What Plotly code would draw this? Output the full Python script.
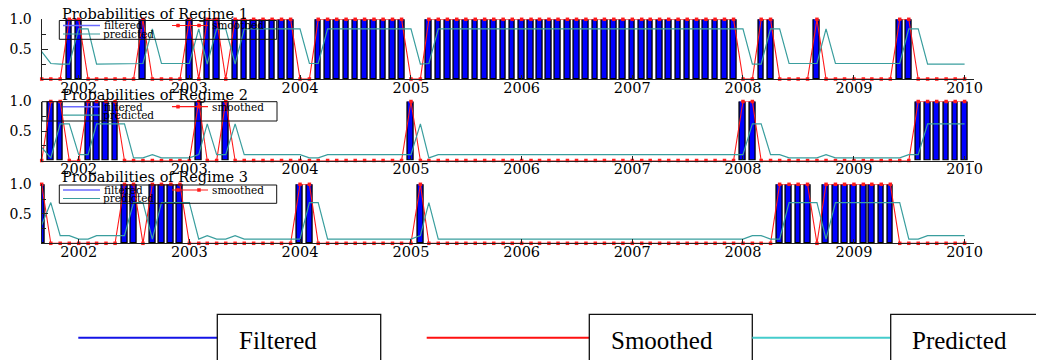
import plotly.graph_objects as go
import pandas as pd

# ---------------- data (monthly, Sep 2001 - Jan 2010) ----------------
start_month = "2001-09-01"
n_obs = 101
dates = pd.date_range(start_month, periods=n_obs, freq="MS")

filtered_1 = [0,0,0,1,1,0,0,0,0,0,
              0,1,0,0,0,0,1,0,1,1,
              0,1,1,1,1,1,1,1,0,0,
              1,1,1,1,1,1,1,1,1,1,
              0,0,1,1,1,1,1,1,1,1,
              1,1,1,1,1,1,1,1,1,1,
              1,1,1,1,1,1,1,1,1,1,
              1,1,1,1,1,1,0,0,1,1,
              0,0,0,0,1,0,0,0,0,0,
              0,0,0,1,1,0,0,0,0,0,
              0]
smoothed_1 = [0,0,0,1,1,0,0,0,0,0,
              0,1,0,0,0,0,1,0,1,1,
              0,1,1,1,1,1,1,1,0,0,
              1,1,1,1,1,1,1,1,1,1,
              0,0,1,1,1,1,1,1,1,1,
              1,1,1,1,1,1,1,1,1,1,
              1,1,1,1,1,1,1,1,1,1,
              1,1,1,1,1,1,0,0,1,1,
              0,0,0,0,1,0,0,0,0,0,
              0,0,0,1,1,0,0,0,0,0,
              0]
predicted_1 = [0.46,0.26,0.25,0.25,0.84,0.84,0.25,0.25,0.25,0.25,
               0.26,0.26,0.84,0.26,0.26,0.26,0.26,0.84,0.25,0.84,
               0.84,0.25,0.84,0.84,0.84,0.84,0.84,0.84,0.84,0.26,
               0.26,0.84,0.84,0.84,0.84,0.84,0.84,0.84,0.84,0.84,
               0.84,0.25,0.26,0.84,0.84,0.84,0.84,0.84,0.84,0.84,
               0.84,0.84,0.84,0.84,0.84,0.84,0.84,0.84,0.84,0.84,
               0.84,0.84,0.84,0.84,0.84,0.84,0.84,0.84,0.84,0.84,
               0.84,0.84,0.84,0.84,0.84,0.84,0.84,0.25,0.25,0.84,
               0.84,0.26,0.26,0.26,0.26,0.84,0.26,0.26,0.26,0.26,
               0.26,0.26,0.26,0.26,0.84,0.84,0.25,0.25,0.25,0.25,
               0.25]

filtered_2 = [0,1,1,0,0,1,1,1,1,0,
              0,0,0,0,0,0,0,1,0,0,
              1,0,0,0,0,0,0,0,0,0,
              0,0,0,0,0,0,0,0,0,0,
              1,0,0,0,0,0,0,0,0,0,
              0,0,0,0,0,0,0,0,0,0,
              0,0,0,0,0,0,0,0,0,0,
              0,0,0,0,0,0,1,1,0,0,
              0,0,0,0,0,0,0,0,0,0,
              0,0,0,0,0,1,1,1,1,1,
              1]
smoothed_2 = [0,1,1,0,0,1,1,1,1,0,
              0,0,0,0,0,0,0,1,0,0,
              1,0,0,0,0,0,0,0,0,0,
              0,0,0,0,0,0,0,0,0,0,
              1,0,0,0,0,0,0,0,0,0,
              0,0,0,0,0,0,0,0,0,0,
              0,0,0,0,0,0,0,0,0,0,
              0,0,0,0,0,0,1,1,0,0,
              0,0,0,0,0,0,0,0,0,0,
              0,0,0,0,0,1,1,1,1,1,
              1]
predicted_2 = [0.22,0.045,0.62,0.62,0.10,0.10,0.62,0.62,0.62,0.62,
               0.045,0.045,0.10,0.045,0.045,0.045,0.045,0.10,0.62,0.10,
               0.10,0.62,0.10,0.10,0.10,0.10,0.10,0.10,0.10,0.045,
               0.045,0.10,0.10,0.10,0.10,0.10,0.10,0.10,0.10,0.10,
               0.10,0.62,0.045,0.10,0.10,0.10,0.10,0.10,0.10,0.10,
               0.10,0.10,0.10,0.10,0.10,0.10,0.10,0.10,0.10,0.10,
               0.10,0.10,0.10,0.10,0.10,0.10,0.10,0.10,0.10,0.10,
               0.10,0.10,0.10,0.10,0.10,0.10,0.10,0.62,0.62,0.10,
               0.10,0.045,0.045,0.045,0.045,0.10,0.045,0.045,0.045,0.045,
               0.045,0.045,0.045,0.045,0.10,0.10,0.62,0.62,0.62,0.62,
               0.62]

filtered_3 = [1,0,0,0,0,0,0,0,0,1,
              1,0,1,1,1,1,0,0,0,0,
              0,0,0,0,0,0,0,0,1,1,
              0,0,0,0,0,0,0,0,0,0,
              0,1,0,0,0,0,0,0,0,0,
              0,0,0,0,0,0,0,0,0,0,
              0,0,0,0,0,0,0,0,0,0,
              0,0,0,0,0,0,0,0,0,0,
              1,1,1,1,0,1,1,1,1,1,
              1,1,1,0,0,0,0,0,0,0,
              0]
smoothed_3 = [1,0,0,0,0,0,0,0,0,1,
              1,0,1,1,1,1,0,0,0,0,
              0,0,0,0,0,0,0,0,1,1,
              0,0,0,0,0,0,0,0,0,0,
              0,1,0,0,0,0,0,0,0,0,
              0,0,0,0,0,0,0,0,0,0,
              0,0,0,0,0,0,0,0,0,0,
              0,0,0,0,0,0,0,0,0,0,
              1,1,1,1,0,1,1,1,1,1,
              1,1,1,0,0,0,0,0,0,0,
              0]
predicted_3 = [0.31,0.69,0.13,0.13,0.07,0.07,0.13,0.13,0.13,0.13,
               0.69,0.69,0.07,0.69,0.69,0.69,0.69,0.07,0.13,0.07,
               0.07,0.13,0.07,0.07,0.07,0.07,0.07,0.07,0.07,0.69,
               0.69,0.07,0.07,0.07,0.07,0.07,0.07,0.07,0.07,0.07,
               0.07,0.13,0.69,0.07,0.07,0.07,0.07,0.07,0.07,0.07,
               0.07,0.07,0.07,0.07,0.07,0.07,0.07,0.07,0.07,0.07,
               0.07,0.07,0.07,0.07,0.07,0.07,0.07,0.07,0.07,0.07,
               0.07,0.07,0.07,0.07,0.07,0.07,0.07,0.13,0.13,0.07,
               0.07,0.69,0.69,0.69,0.69,0.07,0.69,0.69,0.69,0.69,
               0.69,0.69,0.69,0.69,0.07,0.07,0.13,0.13,0.13,0.13,
               0.13]

panel_titles = ["Probabilities of Regime 1", "Probabilities of Regime 2", "Probabilities of Regime 3"]
year_labels = ["2002", "2003", "2004", "2005", "2006", "2007", "2008", "2009", "2010"]
y_tick_vals = [0.5, 1.0]
y_tick_text = ["0.5", "1.0"]
legend_labels = ["filtered", "smoothed", "predicted"]
bottom_labels = ["Filtered", "Smoothed", "Predicted"]

# ---------------- styling / geometry ----------------
# The page body has an 8px margin, so the figure is sized to fill the rest of
# the 1044x360 window and all positions below are given in window pixels.
OFF = 8
W, H = 1044 - OFF, 360 - OFF
BLUE = "#0000ff"
RED = "#ff1a1a"
TEAL = "#3a9e9e"
TEAL_LIGHT = "#45cccc"
SERIF = "DejaVu Serif"
TIMES = "Liberation Serif"

# window-pixel positions of each panel (value 0 line, value 1 line)
panels_px = [(79.0, 19.3), (160.5, 101.5), (243.3, 184.3)]
x_left_px, x_right_px = 41.7, 974.0
title_y_px = [14.2, 95.5, 177.5]
legend_box_px = [(59.3, 20.5, 276.7, 39.3), (42.0, 101.7, 277.0, 121.0), (59.3, 185.0, 276.7, 203.3)]

def px(xp):
    return (xp - OFF) / W

def py(yp):
    return 1 - (yp - OFF) / H

series = [(filtered_1, smoothed_1, predicted_1),
          (filtered_2, smoothed_2, predicted_2),
          (filtered_3, smoothed_3, predicted_3)]

fig = go.Figure()
bar_width_ms = 0.62 * 30.44 * 24 * 3600 * 1000

for i, (filt, smooth, pred) in enumerate(series):
    xa = "x" if i == 0 else f"x{i+1}"
    ya = "y" if i == 0 else f"y{i+1}"
    fig.add_trace(go.Bar(
        x=dates, y=[v if v > 0 else None for v in filt], width=bar_width_ms,
        marker=dict(color=BLUE, line=dict(color="black", width=1.3)),
        name=legend_labels[0], xaxis=xa, yaxis=ya, showlegend=False))
    fig.add_trace(go.Scatter(
        x=dates, y=smooth, mode="lines+markers",
        line=dict(color=RED, width=1.1),
        marker=dict(color=RED, size=3.5, symbol="square"),
        cliponaxis=False,
        name=legend_labels[1], xaxis=xa, yaxis=ya, showlegend=False))
    fig.add_trace(go.Scatter(
        x=dates, y=pred, mode="lines",
        line=dict(color=TEAL, width=1.2),
        name=legend_labels[2], xaxis=xa, yaxis=ya, showlegend=False))

shapes = []
annotations = []

def hline(x0, x1, y, color, width):
    shapes.append(dict(type="line", xref="paper", yref="paper",
                       x0=px(x0), x1=px(x1), y0=py(y), y1=py(y),
                       line=dict(color=color, width=width)))

def rect(x0, y0, x1, y1, color="black", width=1.0, fill="rgba(0,0,0,0)"):
    shapes.append(dict(type="rect", xref="paper", yref="paper",
                       x0=px(x0), x1=px(x1), y0=py(y1), y1=py(y0),
                       line=dict(color=color, width=width), fillcolor=fill))

def text(x, y, s, size, family, xanchor="left"):
    annotations.append(dict(x=px(x), y=py(y), xref="paper", yref="paper", text=s,
                            showarrow=False, xanchor=xanchor, yanchor="middle",
                            borderpad=0,
                            font=dict(family=family, size=size, color="black")))

layout_axes = {}
for i in range(3):
    y0p, y1p = panels_px[i]
    xkey = "xaxis" if i == 0 else f"xaxis{i+1}"
    ykey = "yaxis" if i == 0 else f"yaxis{i+1}"
    layout_axes[xkey] = dict(
        domain=[px(x_left_px), px(x_right_px)],
        type="date",
        range=[dates[0], pd.Timestamp("2010-02-01")],
        tickvals=[pd.Timestamp(f"{y}-01-01") for y in year_labels],
        ticktext=year_labels,
        ticks="inside", ticklen=4, tickcolor="#222", tickwidth=1,
        showline=True, linecolor="#222", linewidth=1.3,
        showgrid=False, zeroline=False,
        tickfont=dict(family=SERIF, size=14.5, color="black"),
        ticklabelstandoff=-5,
        automargin=False,
        anchor="y" if i == 0 else f"y{i+1}",
        fixedrange=True,
    )
    layout_axes[ykey] = dict(
        domain=[py(y0p), py(y1p)],
        range=[0, 1],
        tickvals=y_tick_vals, ticktext=y_tick_text,
        ticks="inside", ticklen=6, tickcolor="#222", tickwidth=1,
        minor=dict(tickvals=[0.25, 0.75], ticks="inside", ticklen=4, tickcolor="#222"),
        showline=True, linecolor="#222", linewidth=1.3,
        showgrid=False, zeroline=False,
        tickfont=dict(family=SERIF, size=14, color="black"),
        ticklabelstandoff=6,
        automargin=False,
        anchor="x" if i == 0 else f"x{i+1}",
        fixedrange=True,
    )
    # panel title
    text(61.0, title_y_px[i], panel_titles[i], 14.5, SERIF)
    # in-panel legend
    bx0, by0, bx1, by1 = legend_box_px[i]
    rect(bx0, by0, bx1, by1, color="#111", width=1)
    r1 = by0 + 5.0
    r2 = by0 + 13.5
    hline(63, 100, r1, "#6b6bff", 1.6)
    text(102.5, r1, legend_labels[0], 10.5, SERIF)
    hline(172, 208, r1, RED, 1.2)
    for mx in (178, 199):
        rect(mx - 1.5, r1 - 1.5, mx + 1.5, r1 + 1.5, color=RED, width=0.5, fill=RED)
    text(211, r1, legend_labels[1], 10.5, SERIF)
    hline(63, 100, r2, TEAL, 1.2)
    text(102, r2, legend_labels[2], 10.5, SERIF)

# bottom legend (boxes with labels)
legend_y = 337.7
hline(78.3, 217.3, legend_y, "#1414e6", 2)
rect(217.3, 314.3, 380.7, 366, color="#111", width=1.3)
text(238.3, 340.5, bottom_labels[0], 25, TIMES)
hline(426.7, 589.3, legend_y, "#ff1010", 2)
rect(589.3, 314.3, 752.3, 366, color="#111", width=1.3)
text(610.0, 340.5, bottom_labels[1], 25, TIMES)
hline(752.3, 890.7, legend_y, TEAL_LIGHT, 2)
rect(890.7, 314.3, 1040.5, 366, color="#111", width=1.3)
text(911.0, 340.5, bottom_labels[2], 25, TIMES)

fig.update_layout(
    width=W, height=H, autosize=False,
    margin=dict(l=0, r=0, t=0, b=0, pad=0, autoexpand=False),
    paper_bgcolor="white", plot_bgcolor="white",
    showlegend=False, barmode="overlay", bargap=0,
    shapes=shapes, annotations=annotations,
    **layout_axes,
)

fig.write_html("out.html")
